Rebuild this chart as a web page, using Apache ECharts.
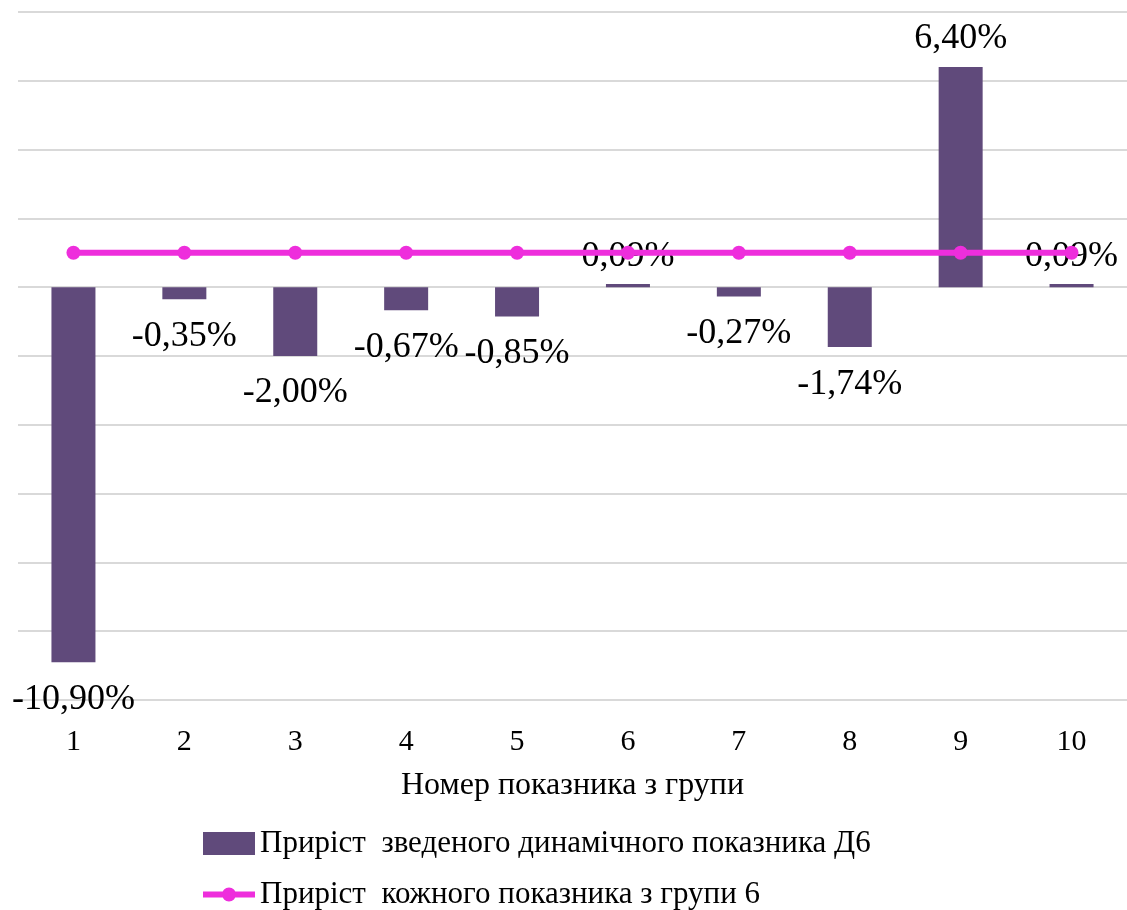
<!DOCTYPE html>
<html>
<head>
<meta charset="utf-8">
<script src="https://cdn.jsdelivr.net/npm/echarts@6/dist/echarts.min.js"></script>
<style>
  html, body { margin: 0; padding: 0; background: #fff; }
  #chart { width: 1127px; height: 910px; }
</style>
</head>
<body>
<div id="chart"></div>
<script>
// Indicator numbers within the group
const categories = ['1', '2', '3', '4', '5', '6', '7', '8', '9', '10'];
// Growth of the composite dynamic indicator D6, %
const compositeGrowth = [-10.90, -0.35, -2.00, -0.67, -0.85, 0.09, -0.27, -1.74, 6.40, 0.09];
// Growth of each indicator of group 6, %
const eachGrowth = [1, 1, 1, 1, 1, 1, 1, 1, 1, 1];

const seriesNames = [
  'Приріст  зведеного динамічного показника Д6',
  'Приріст  кожного показника з групи 6'
];
const axisTitle = 'Номер показника з групи';

const FONT = "'Liberation Serif', 'Times New Roman', serif";
const fmt = v => v.toFixed(2).replace('.', ',') + '%';

// Line-with-marker legend glyph: a thick stroke with a dot in the middle
const lineIcon = 'path://M0,4 L52,4 L52,10 L0,10 Z M33,7 A7,7 0 1,1 19,7 A7,7 0 1,1 33,7 Z';

const barData = compositeGrowth.map(v => ({
  value: v,
  label: { position: v >= 0 ? 'top' : 'bottom', distance: v >= 0 ? 10 : 19 }
}));

const legendText = { fontFamily: FONT, fontSize: 31, color: '#000' };

const chart = echarts.init(document.getElementById('chart'), null, { renderer: 'canvas' });
chart.setOption({
  animation: false,
  backgroundColor: '#ffffff',
  grid: { left: 18, right: -1, top: 12, bottom: 210, containLabel: false },
  legend: [
    {
      orient: 'vertical',
      left: 203,
      top: 828,
      padding: 0,
      itemWidth: 52,
      itemHeight: 23,
      textStyle: legendText,
      data: [{ name: seriesNames[0], icon: 'rect' }]
    },
    {
      orient: 'vertical',
      left: 203,
      top: 879,
      padding: 0,
      itemWidth: 52,
      itemHeight: 14,
      textStyle: legendText,
      data: [{ name: seriesNames[1], icon: lineIcon, itemStyle: { color: '#ee2edc' } }]
    }
  ],
  xAxis: {
    type: 'category',
    data: categories,
    name: axisTitle,
    nameLocation: 'middle',
    nameGap: 70,
    nameTextStyle: { fontFamily: FONT, fontSize: 32, color: '#000' },
    axisLine: { show: false, onZero: false },
    axisTick: { show: false },
    axisLabel: { fontFamily: FONT, fontSize: 30, color: '#000', margin: 27 },
    splitLine: { show: false }
  },
  yAxis: {
    type: 'value',
    min: -12,
    max: 8,
    interval: 2,
    axisLabel: { show: false },
    axisLine: { show: false },
    axisTick: { show: false },
    splitLine: { lineStyle: { color: '#d9d9d9', width: 2 } }
  },
  series: [
    {
      name: seriesNames[0],
      type: 'bar',
      data: barData,
      barWidth: 44,
      itemStyle: { color: '#604a7b' },
      label: {
        show: true,
        formatter: p => fmt(p.value),
        fontFamily: FONT,
        fontSize: 36,
        color: '#000'
      },
      z: 2
    },
    {
      name: seriesNames[1],
      type: 'line',
      data: eachGrowth,
      symbol: 'circle',
      symbolSize: 14,
      lineStyle: { color: '#ee2edc', width: 6 },
      itemStyle: { color: '#ee2edc' },
      z: 3
    }
  ]
});
</script>
</body>
</html>
